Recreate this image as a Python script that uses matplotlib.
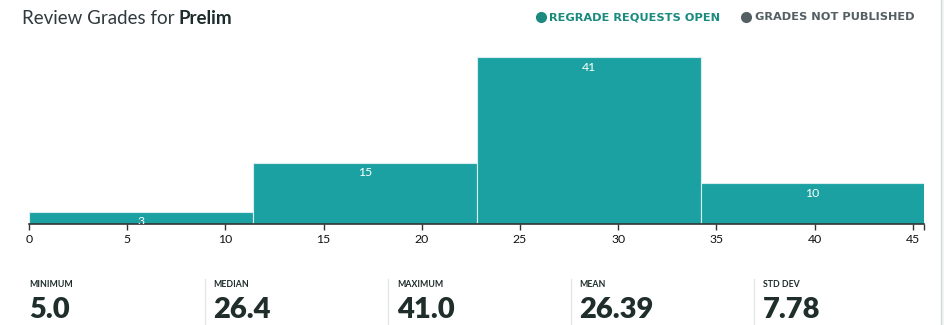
import numpy as np
import matplotlib
matplotlib.use('Agg')
import matplotlib.pyplot as plt
import matplotlib.transforms as mtransforms
from matplotlib.lines import Line2D
from matplotlib.patches import Rectangle

# histogram data
bin_edges = [0, 11.4, 22.8, 34.2, 45.6]
counts = [3, 15, 41, 10]
x_ticks = [0, 5, 10, 15, 20, 25, 30, 35, 40, 45]

title_part = 'Review Grades for '
title_bold = 'Prelim'
legend_labels = ['REGRADE REQUESTS OPEN', 'GRADES NOT PUBLISHED']

stat_names = ['MINIMUM', 'MEDIAN', 'MAXIMUM', 'MEAN', 'STD DEV']
stat_values = ['5.0', '26.4', '41.0', '26.39', '7.78']

BAR_COLOR = '#1ba1a1'
TEAL_TEXT = '#1b8a7f'
GRAY_TEXT = '#545f64'
DARK = '#1f2d2b'
WIDE = ['DejaVu Sans']

plt.rcParams['font.family'] = ['Lato', 'DejaVu Sans']

W, H = 944, 325
fig = plt.figure(figsize=(W / 100, H / 100), dpi=100)


def fx(px):
    return px / W


def fy(py):
    return 1 - py / H


# main axes: value 0 at x=29, axis line at y=224
ax = fig.add_axes([fx(29), fy(224), fx(923.6) - fx(29), fy(41) - fy(224)])

edges = np.array(bin_edges)
widths = np.diff(edges)
ax.bar(edges[:-1], counts, width=widths, align='edge', color=BAR_COLOR,
       edgecolor='#d9efef', linewidth=0.8)

ax.set_xlim(0, 45.55)
ax.set_ylim(0, 45)

label_tr = mtransforms.offset_copy(ax.transData, fig=fig, x=0, y=-10, units='dots')
for left, w, c in zip(edges[:-1], widths, counts):
    ax.text(left + w / 2, c, str(c), transform=label_tr, ha='center', va='center',
            color='white', fontsize=8.8, clip_on=True)

for side in ['top', 'right', 'left']:
    ax.spines[side].set_visible(False)
ax.spines['bottom'].set_color('#333333')
ax.spines['bottom'].set_linewidth(1.2)
ax.set_yticks([])
ax.set_xticks(x_ticks + [45.55])
ax.set_xticklabels([str(t) for t in x_ticks] + [''])
ax.tick_params(axis='x', length=4, width=1, color='#333333', labelsize=8.8,
               labelcolor='#111111', pad=3)

# title
fig.text(fx(22), fy(18), title_part, fontsize=13.5, color='#2f3a3c', va='center', ha='left')
fig.text(fx(179), fy(18), title_bold, fontsize=13.5, color='#1e2b2b', fontweight='bold',
         va='center', ha='left')

# legend
fig.add_artist(Line2D([fx(541)], [fy(17)], marker='o', markersize=7, color=TEAL_TEXT,
                      transform=fig.transFigure))
fig.text(fx(549), fy(17), legend_labels[0], fontsize=8.2, fontweight='bold', family=WIDE,
         color=TEAL_TEXT, va='center', ha='left')
fig.add_artist(Line2D([fx(746)], [fy(17)], marker='o', markersize=7, color=GRAY_TEXT,
                      transform=fig.transFigure))
fig.text(fx(755), fy(17), legend_labels[1], fontsize=8.2, fontweight='bold', family=WIDE,
         color=GRAY_TEXT, va='center', ha='left')

# summary stats
stat_x = [29, 213, 397, 579, 763]
sep_x = [205, 388, 571, 754]
for x, name, val in zip(stat_x, stat_names, stat_values):
    fig.text(fx(x), fy(287), name, fontsize=6.3, fontweight='bold', color=DARK,
             va='baseline', ha='left')
    fig.text(fx(x), fy(318), val, fontsize=21, fontweight='heavy', color=DARK,
             va='baseline', ha='left')
for x in sep_x:
    fig.add_artist(Line2D([fx(x), fx(x)], [fy(279), 0], color='#e4e6e8', linewidth=1,
                          transform=fig.transFigure))

# right edge border
fig.add_artist(Rectangle((fx(941), 0), 1 - fx(941), 1, transform=fig.transFigure,
                         facecolor='#f3f4f5', edgecolor='none'))
fig.add_artist(Line2D([fx(941), fx(941)], [0, 1], color='#d6d9db', linewidth=1,
                      transform=fig.transFigure))

fig.savefig('out.png', dpi=100)
